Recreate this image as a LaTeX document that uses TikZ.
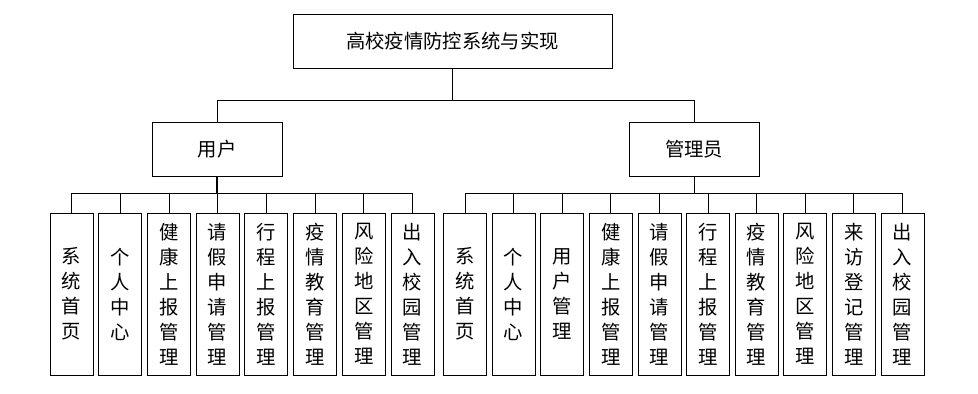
\documentclass[tikz,border=0pt]{standalone}
\usepackage{fontspec}
\setmainfont{Noto Sans CJK SC}
\begin{document}
\begin{tikzpicture}[x=0.75pt, y=-0.75pt,
        box/.style={rectangle, draw=black, line width=0.6pt, inner sep=0pt, font=\fontsize{14.5pt}{18pt}\selectfont},
        leaf/.style={box, minimum width=32.25pt, minimum height=121.5pt, align=center, font=\fontsize{14.5pt}{18.75pt}\selectfont},
        link/.style={line width=0.6pt},
        stem/.style={line width=1.2pt}
    ]
    \useasboundingbox (0,0) rectangle (978,393);
    \node[box, minimum width=239.25pt, minimum height=40.5pt] (root) at (452.5,41) {高校疫情防控系统与实现};
    \node[box, minimum width=97.5pt, minimum height=40.5pt] (user) at (217,149) {用户};
    \node[box, minimum width=97.5pt, minimum height=40.5pt] (admin) at (694.3,149) {管理员};

    % top level
    \coordinate (tb) at (452.5,100);
    \draw[stem] (root.south) -- (tb);
    \draw[link] (tb) -| (user.north);
    \draw[link] (tb) -| (admin.north);

    % user
    \coordinate (ub) at (217,193);
    \draw[stem] (user.south) -- (ub);
    \foreach \t [count=\i from 0] in {{系\\统\\首\\页}, {个\\人\\中\\心}, {健\\康\\上\\报\\管\\理}, {请\\假\\申\\请\\管\\理}, {行\\程\\上\\报\\管\\理}, {疫\\情\\教\\育\\管\\理}, {风\\险\\地\\区\\管\\理}, {出\\入\\校\\园\\管\\理}} {
        \node[leaf] (u\i) at (71.5+48.7*\i,294) {\t};
        \draw[link] (ub) -| (u\i.north);
    }

    % admin
    \coordinate (ab) at (694.3,193);
    \draw[stem] (admin.south) -- (ab);
    \foreach \t [count=\i from 0] in {{系\\统\\首\\页}, {个\\人\\中\\心}, {用\\户\\管\\理}, {健\\康\\上\\报\\管\\理}, {请\\假\\申\\请\\管\\理}, {行\\程\\上\\报\\管\\理}, {疫\\情\\教\\育\\管\\理}, {风\\险\\地\\区\\管\\理}, {来\\访\\登\\记\\管\\理}, {出\\入\\校\\园\\管\\理}} {
        \node[leaf] (a\i) at (465+48.6*\i,294) {\t};
        \draw[link] (ab) -| (a\i.north);
    }
\end{tikzpicture}
\end{document}
